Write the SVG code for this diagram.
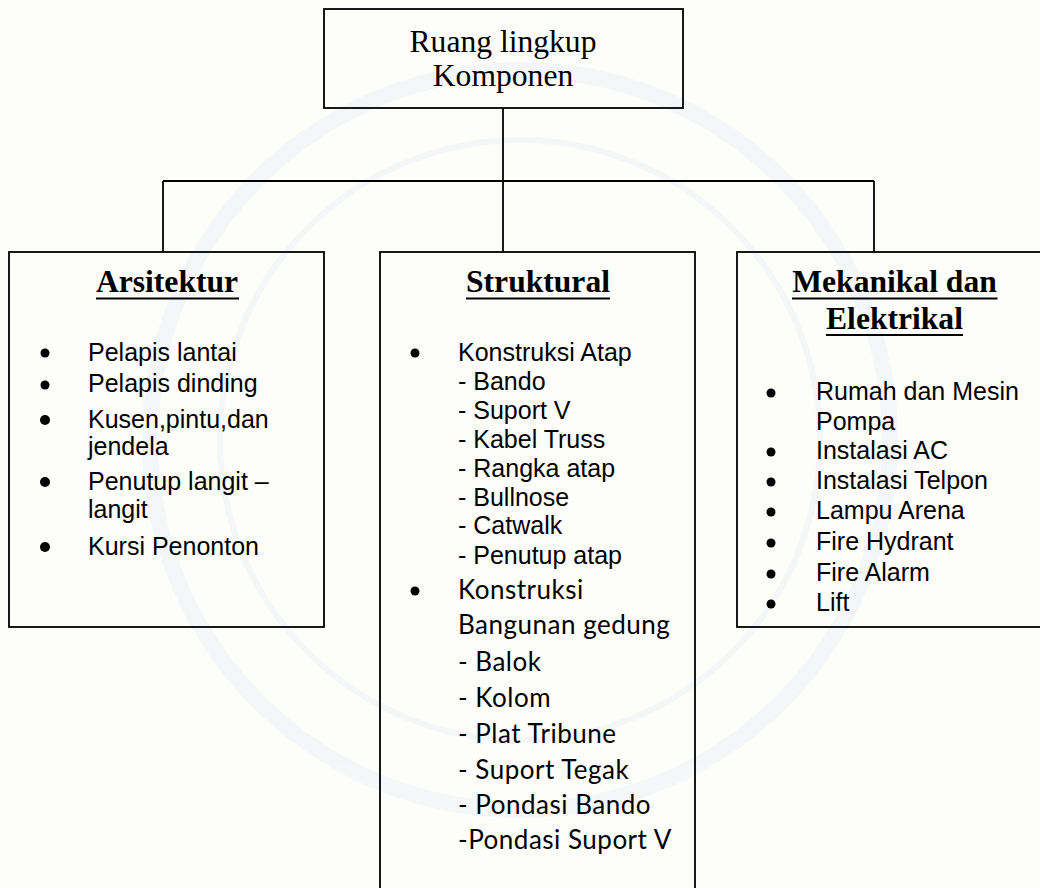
<svg xmlns="http://www.w3.org/2000/svg" width="1040" height="888" viewBox="0 0 1040 888">
<style>
.box{fill:none;stroke:#000;stroke-width:1.8}
.ln{stroke:#000;stroke-width:1.8;fill:none}
.ul{stroke:#000;stroke-width:2}
.t{font-family:"Liberation Serif","Times New Roman",serif;font-size:31.6px;fill:#000}
.h{font-family:"Liberation Serif","Times New Roman",serif;font-size:31.6px;font-weight:bold;fill:#000}
.a{font-family:"Liberation Sans",Arial,sans-serif;font-size:25px;fill:#000}
.c{font-family:Lato,"Open Sans",sans-serif;font-size:26px;letter-spacing:0.5px;fill:#000}
.b{fill:#000}
</style>
<rect x="0" y="0" width="1040" height="888" fill="#fdfdfa"/>
<g id="watermark" fill="none" stroke="#f0f3f7" stroke-width="16" opacity="0.6">
<circle cx="520" cy="440" r="370"/>
<circle cx="520" cy="440" r="300" stroke-width="6"/>
</g>
<g id="connectors">
<line class="ln" x1="503" y1="108" x2="503" y2="181"/>
<line class="ln" x1="163" y1="181" x2="874" y2="181"/>
<line class="ln" x1="163" y1="181" x2="163" y2="252"/>
<line class="ln" x1="503" y1="181" x2="503" y2="252"/>
<line class="ln" x1="874" y1="181" x2="874" y2="252"/>
</g>
<g id="root">
<rect class="box" x="324" y="9" width="359" height="99"/>
<text class="t" x="503" y="52" text-anchor="middle">Ruang lingkup</text>
<text class="t" x="503" y="86" text-anchor="middle">Komponen</text>
</g>
<g id="arsitektur">
<rect class="box" x="9" y="252" width="315" height="375"/>
<text class="h" x="167" y="292" text-anchor="middle">Arsitektur</text>
<line class="ul" x1="96" y1="298.5" x2="239" y2="298.5"/>
<circle class="b" cx="45" cy="353" r="4.5"/>
<circle class="b" cx="45" cy="385" r="4.5"/>
<circle class="b" cx="45" cy="420" r="5"/>
<circle class="b" cx="45" cy="482" r="5"/>
<circle class="b" cx="45" cy="547" r="5"/>
<text class="a" x="88" y="361">Pelapis lantai</text>
<text class="a" x="88" y="392">Pelapis dinding</text>
<text class="a" x="88" y="428">Kusen,pintu,dan</text>
<text class="a" x="88" y="455">jendela</text>
<text class="a" x="88" y="490">Penutup langit –</text>
<text class="a" x="88" y="518">langit</text>
<text class="a" x="88" y="555">Kursi Penonton</text>
</g>
<g id="struktural">
<rect class="box" x="380" y="252" width="315" height="660"/>
<text class="h" x="538" y="292" text-anchor="middle">Struktural</text>
<line class="ul" x1="466" y1="298.5" x2="610" y2="298.5"/>
<circle class="b" cx="415" cy="353" r="4.5"/>
<circle class="b" cx="415" cy="591" r="4.5"/>
<text class="a" x="458" y="361">Konstruksi Atap</text>
<text class="a" x="458" y="390">- Bando</text>
<text class="a" x="458" y="419">- Suport V</text>
<text class="a" x="458" y="448">- Kabel Truss</text>
<text class="a" x="458" y="477">- Rangka atap</text>
<text class="a" x="458" y="506">- Bullnose</text>
<text class="a" x="458" y="534">- Catwalk</text>
<text class="a" x="458" y="564">- Penutup atap</text>
<text class="c" x="458" y="599">Konstruksi</text>
<text class="c" x="458" y="634">Bangunan gedung</text>
<text class="c" x="458" y="671">- Balok</text>
<text class="c" x="458" y="707">- Kolom</text>
<text class="c" x="458" y="743">- Plat Tribune</text>
<text class="c" x="458" y="779">- Suport Tegak</text>
<text class="c" x="458" y="814">- Pondasi Bando</text>
<text class="c" x="458" y="849">-Pondasi Suport V</text>
</g>
<g id="mekanikal">
<rect class="box" x="737" y="252" width="315" height="375"/>
<text class="h" x="894.5" y="292" text-anchor="middle">Mekanikal dan</text>
<line class="ul" x1="792" y1="298.5" x2="997.5" y2="298.5"/>
<text class="h" x="894.5" y="328.5" text-anchor="middle">Elektrikal</text>
<line class="ul" x1="826" y1="335" x2="963" y2="335"/>
<circle class="b" cx="771" cy="393" r="4.5"/>
<circle class="b" cx="771" cy="452" r="4.5"/>
<circle class="b" cx="771" cy="482" r="4.5"/>
<circle class="b" cx="771" cy="512" r="4.5"/>
<circle class="b" cx="771" cy="543" r="4.5"/>
<circle class="b" cx="771" cy="574" r="4.5"/>
<circle class="b" cx="771" cy="604" r="4.5"/>
<text class="a" x="816" y="400">Rumah dan Mesin</text>
<text class="a" x="816" y="430">Pompa</text>
<text class="a" x="816" y="459">Instalasi AC</text>
<text class="a" x="816" y="489">Instalasi Telpon</text>
<text class="a" x="816" y="519">Lampu Arena</text>
<text class="a" x="816" y="550">Fire Hydrant</text>
<text class="a" x="816" y="581">Fire Alarm</text>
<text class="a" x="816" y="611">Lift</text>
</g>
</svg>
